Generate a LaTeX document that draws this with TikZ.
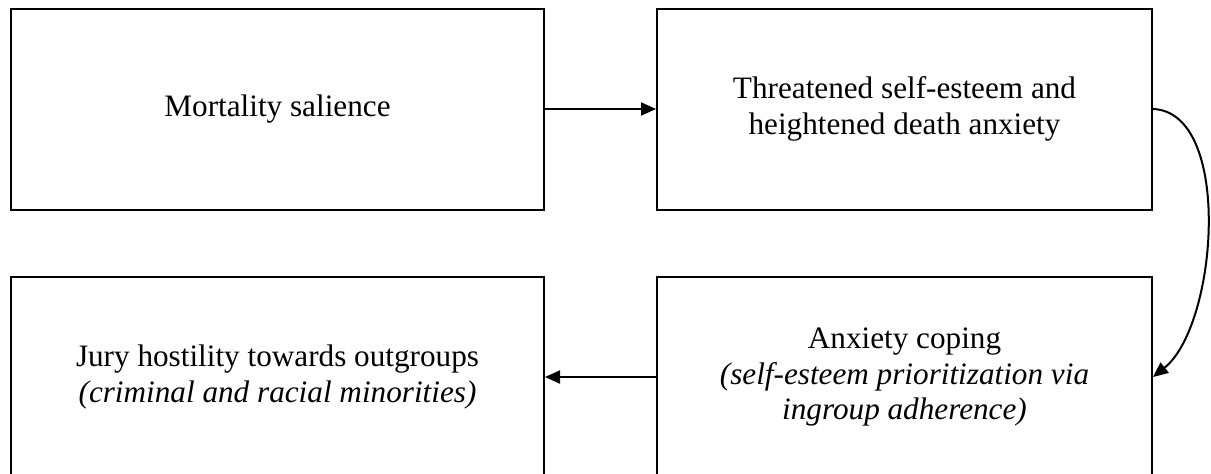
\documentclass[tikz,border=0pt]{standalone}
\usepackage{fontspec}
\setmainfont{Liberation Serif}
\usetikzlibrary{arrows.meta}
\begin{document}
\begin{tikzpicture}[x=1pt,y=-1pt,
  box/.style={draw=black, line width=2pt, inner sep=0pt, align=center,
    font=\fontsize{31.2pt}{35.5pt}\selectfont, minimum height=201pt},
  conn/.style={line width=2pt, -{Triangle[length=15pt,width=13pt]}}]
\useasboundingbox (0,0) rectangle (1211,474);
\clip (0,0) rectangle (1211,474);
\node[box, minimum width=533pt] (ms) at (277.5,109) {Mortality salience};
\node[box, minimum width=495pt] (th) at (904.5,109) {Threatened self-esteem and\\heightened death anxiety};
\node[box, minimum width=495pt] (ac) at (904.5,377) {Anxiety coping\\\textit{(self-esteem prioritization via}\\\textit{ingroup adherence)}};
\node[box, minimum width=533pt] (jh) at (277.5,377) {Jury hostility towards outgroups\\\textit{(criminal and racial minorities)}};
\draw[conn] (ms.east) -- (th.west);
\draw[conn] (th.east) .. controls +(80,3) and +(65,-52) .. (ac.east);
\draw[conn] (ac.west) -- (jh.east);
\end{tikzpicture}
\end{document}
